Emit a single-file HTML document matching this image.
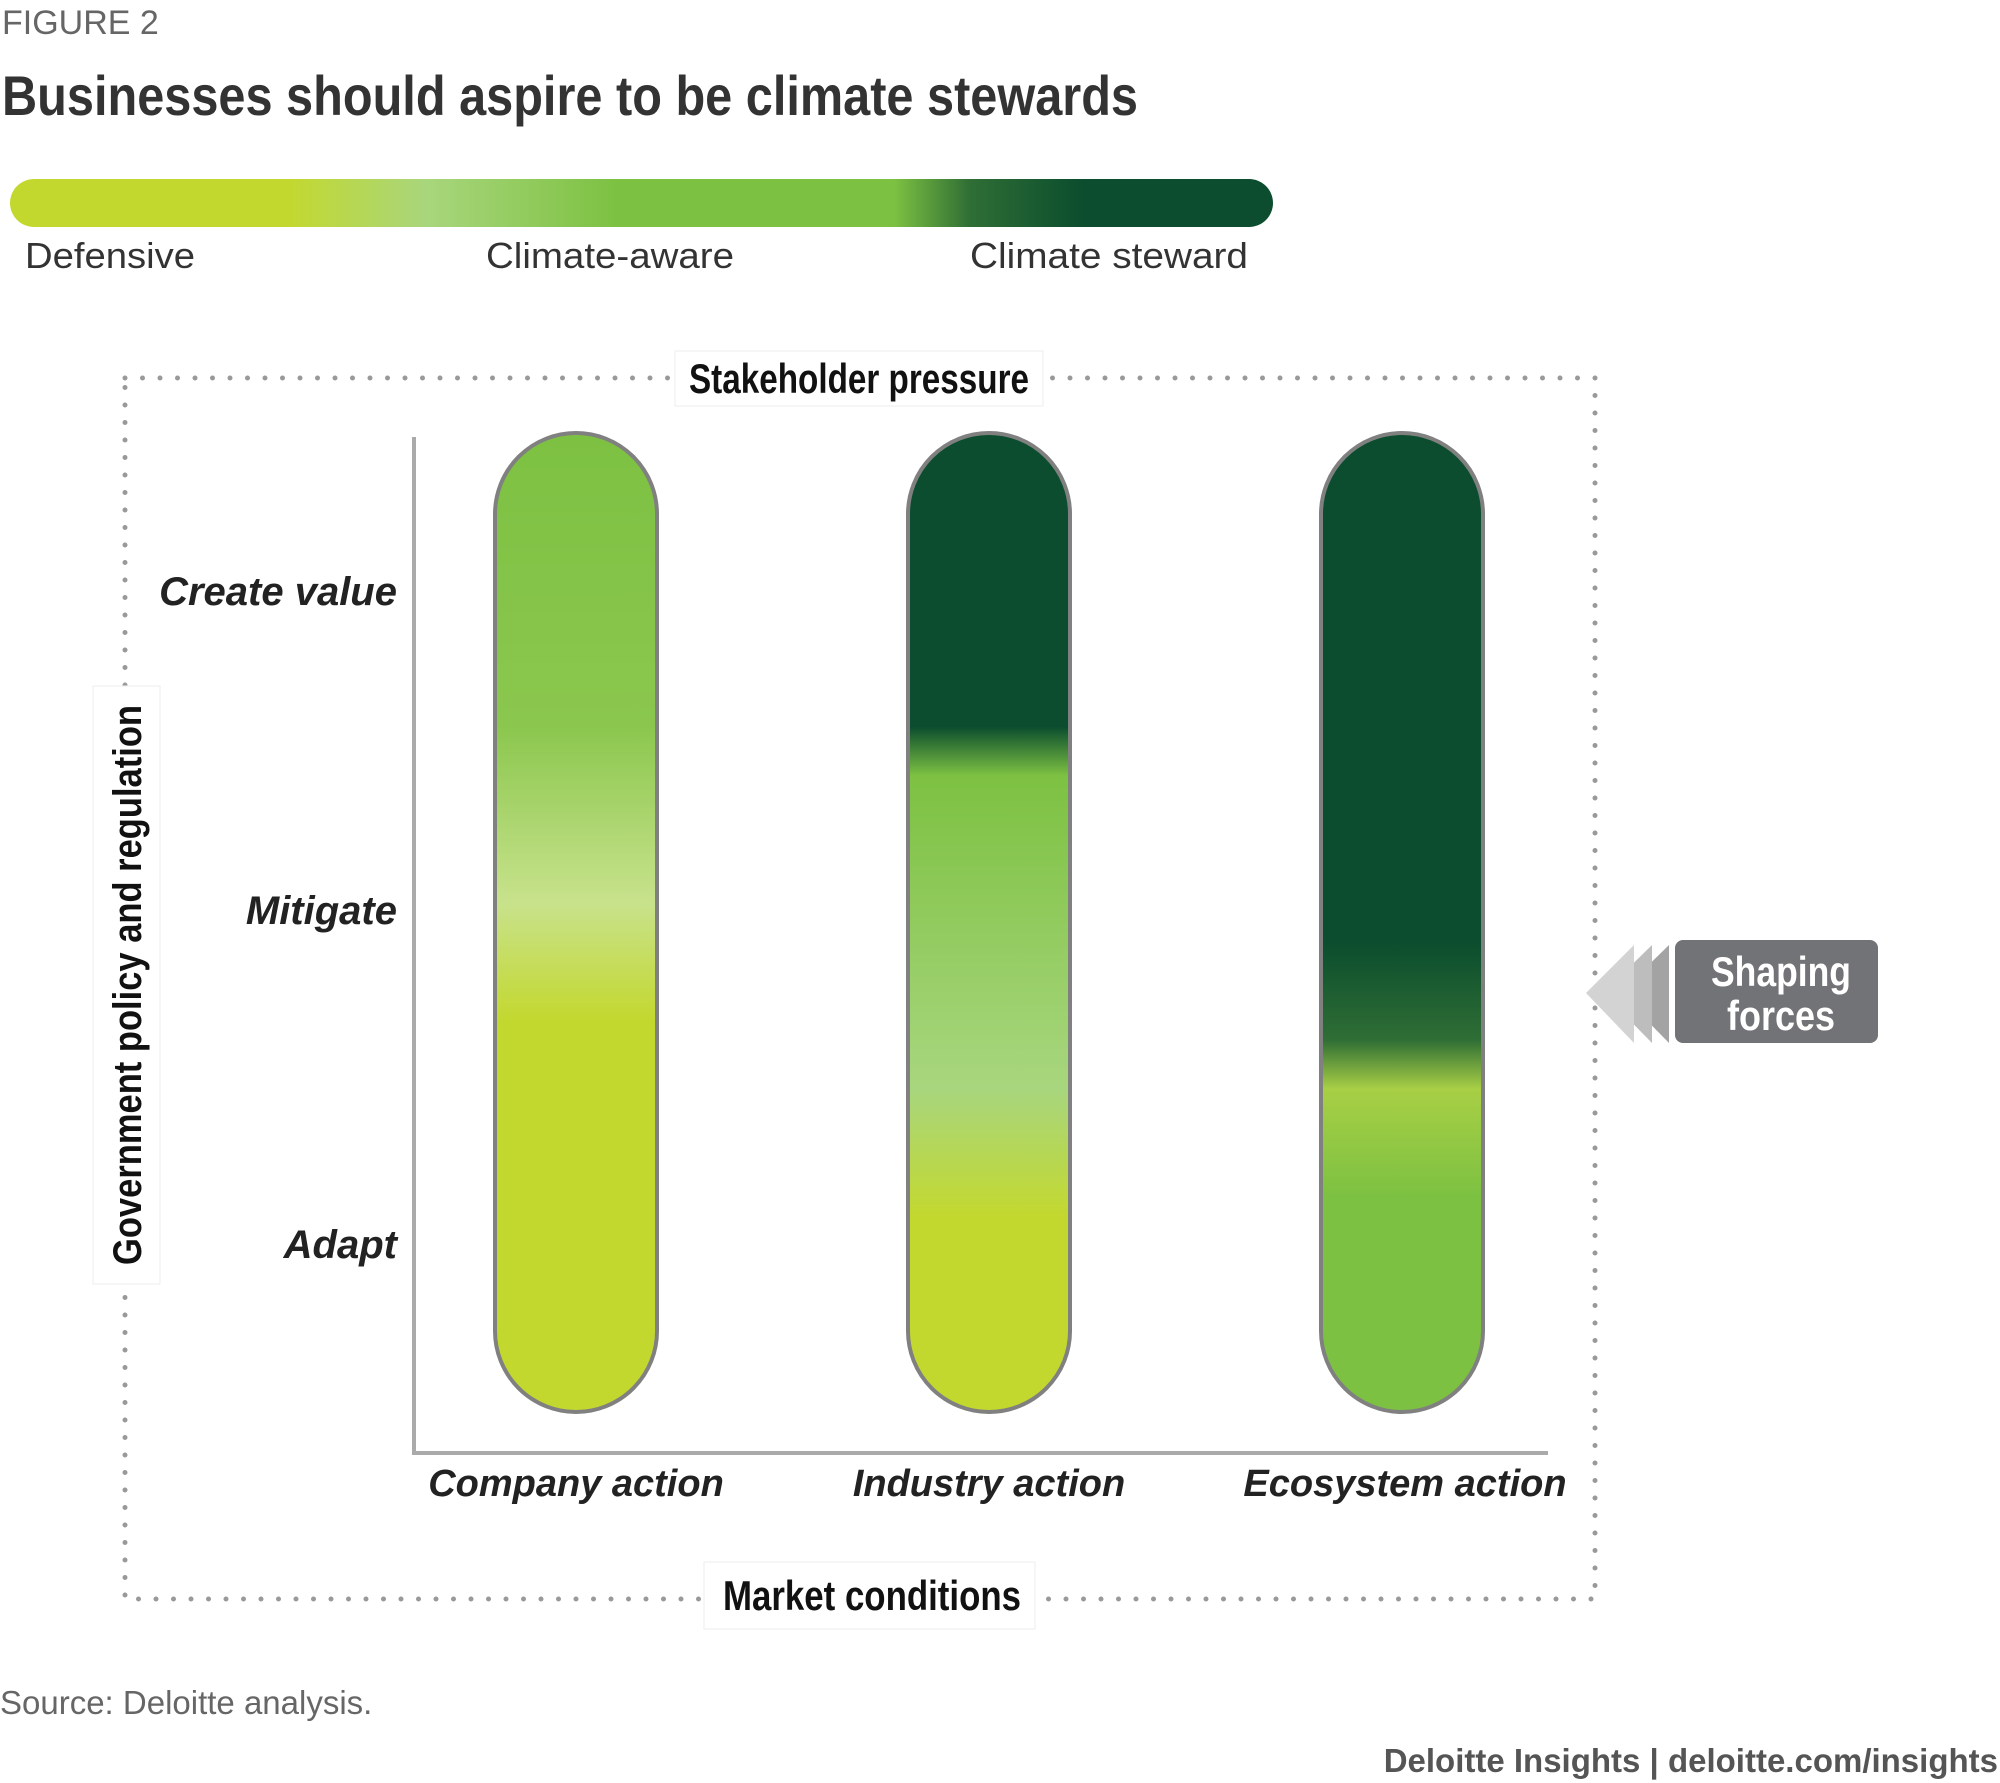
<!DOCTYPE html>
<html><head><meta charset="utf-8"><style>
body{margin:0;background:#fff;}
svg{display:block;font-family:"Liberation Sans",sans-serif;}
</style></head><body>
<svg width="2000" height="1783" viewBox="0 0 2000 1783">
<defs>
<linearGradient id="scale" x1="0" x2="1" y1="0" y2="0">
<stop offset="0" stop-color="#c3d82f"/><stop offset="0.22" stop-color="#c3d82f"/>
<stop offset="0.33" stop-color="#a8d67c"/><stop offset="0.48" stop-color="#7dc142"/>
<stop offset="0.70" stop-color="#7dc142"/><stop offset="0.76" stop-color="#2f6e35"/>
<stop offset="0.85" stop-color="#0b4d2e"/><stop offset="1" stop-color="#0b4d2e"/>
</linearGradient>
</defs>
<text x="2" y="34" font-size="34" fill="#666">FIGURE 2</text>
<text x="2" y="115" font-size="56" font-weight="bold" fill="#333" textLength="1136" lengthAdjust="spacingAndGlyphs">Businesses should aspire to be climate stewards</text>
<rect x="10" y="179" width="1263" height="48" rx="24" fill="url(#scale)"/>
<text x="25" y="268" font-size="36" fill="#333" textLength="170" lengthAdjust="spacingAndGlyphs">Defensive</text>
<text x="486" y="268" font-size="36" fill="#333" textLength="248" lengthAdjust="spacingAndGlyphs">Climate-aware</text>
<text x="970" y="268" font-size="36" fill="#333" textLength="278" lengthAdjust="spacingAndGlyphs">Climate steward</text>
<rect x="125" y="378" width="1470" height="1221" fill="none" stroke="#999" stroke-width="5" stroke-dasharray="0 17.5" stroke-linecap="round"/>
<rect x="675" y="351" width="368" height="55" fill="#fff" stroke="#eee"/>
<text x="859" y="393" font-size="42" font-weight="bold" text-anchor="middle" fill="#111" textLength="340" lengthAdjust="spacingAndGlyphs">Stakeholder pressure</text>
<rect x="704" y="1562" width="331" height="67" fill="#fff" stroke="#eee"/>
<text x="872" y="1610" font-size="42" font-weight="bold" text-anchor="middle" fill="#111" textLength="298" lengthAdjust="spacingAndGlyphs">Market conditions</text>
<rect x="93" y="686" width="67" height="598" fill="#fff" stroke="#eee"/>
<text transform="translate(141,985) rotate(-90)" font-size="40" font-weight="bold" text-anchor="middle" fill="#111" textLength="560" lengthAdjust="spacingAndGlyphs">Government policy and regulation</text>
<line x1="414" y1="437" x2="414" y2="1453" stroke="#aaa" stroke-width="4"/>
<line x1="412" y1="1453" x2="1548" y2="1453" stroke="#aaa" stroke-width="4"/>
<g id="rows"></g><g id="cols"></g><g id="pills"></g>
<g>
<polygon points="1620,993 1669,945 1669,1043" fill="#a3a3a3"/>
<polygon points="1603,993 1652,945 1652,1043" fill="#bdbdbd"/>
<polygon points="1586,993 1634,945 1634,1043" fill="#d3d3d3"/>
<rect x="1675" y="940" width="203" height="103" rx="8" fill="#727376"/>
<text x="1781" y="986" font-size="42" font-weight="bold" fill="#fff" text-anchor="middle" textLength="140" lengthAdjust="spacingAndGlyphs">Shaping</text>
<text x="1781" y="1030" font-size="42" font-weight="bold" fill="#fff" text-anchor="middle" textLength="108" lengthAdjust="spacingAndGlyphs">forces</text>
</g>
<text x="0" y="1714" font-size="33" fill="#666">Source: Deloitte analysis.</text>
<text x="1998" y="1772" font-size="33" fill="#555" text-anchor="end" font-weight="bold">Deloitte Insights | deloitte.com/insights</text>
</svg>
<script>
const rowLabels = ["Create value","Mitigate","Adapt"];
const colLabels = ["Company action","Industry action","Ecosystem action"];
const stopOffsets = [
  [0,0.3,0.48,0.6,1],
  [0,0.3,0.35,0.67,0.8,1],
  [0,0.52,0.62,0.67,0.78,1]
];
const stopColors = [
  ["#7dc142","#8bc74e","#c8e28c","#c3d82f","#c3d82f"],
  ["#0b4d2e","#0b4d2e","#7dc142","#a8d67e","#c3d82f","#c3d82f"],
  ["#0b4d2e","#0b4d2e","#2f6e35","#a8cf45","#7dc142","#7dc142"]
];
const NS="http://www.w3.org/2000/svg";
const svg=document.querySelector('svg');
const xCol=i=>576+i*413;
const yRow=i=>[592,911,1245][i];
function mk(t,a,p){const e=document.createElementNS(NS,t);for(const k in a)e.setAttribute(k,a[k]);p.appendChild(e);return e;}
rowLabels.forEach((r,i)=>{
  const t=mk('text',{x:397,y:yRow(i)+13,'font-size':40,'font-style':'italic','font-weight':'bold','text-anchor':'end',fill:'#222'},document.getElementById('rows'));
  t.textContent=r;
  
  
});
const defs=svg.querySelector('defs');
colLabels.forEach((c,i)=>{
  const t=mk('text',{x:xCol(i)+(i==2?3:0),y:1496,'font-size':38,'font-style':'italic','font-weight':'bold','text-anchor':'middle',fill:'#222'},document.getElementById('cols'));
  t.textContent=c;
  
  
  const g=mk('linearGradient',{id:'pg'+i,x1:0,x2:0,y1:0,y2:1},defs);
  stopOffsets[i].forEach((o,j)=>mk('stop',{offset:o,'stop-color':stopColors[i][j]},g));
  const r=mk('rect',{x:xCol(i)-81,y:433,width:162,height:979,rx:81,fill:'url(#pg'+i+')',stroke:'#808080','stroke-width':4},document.getElementById('pills'));
  
  
});
</script>
</body></html>
